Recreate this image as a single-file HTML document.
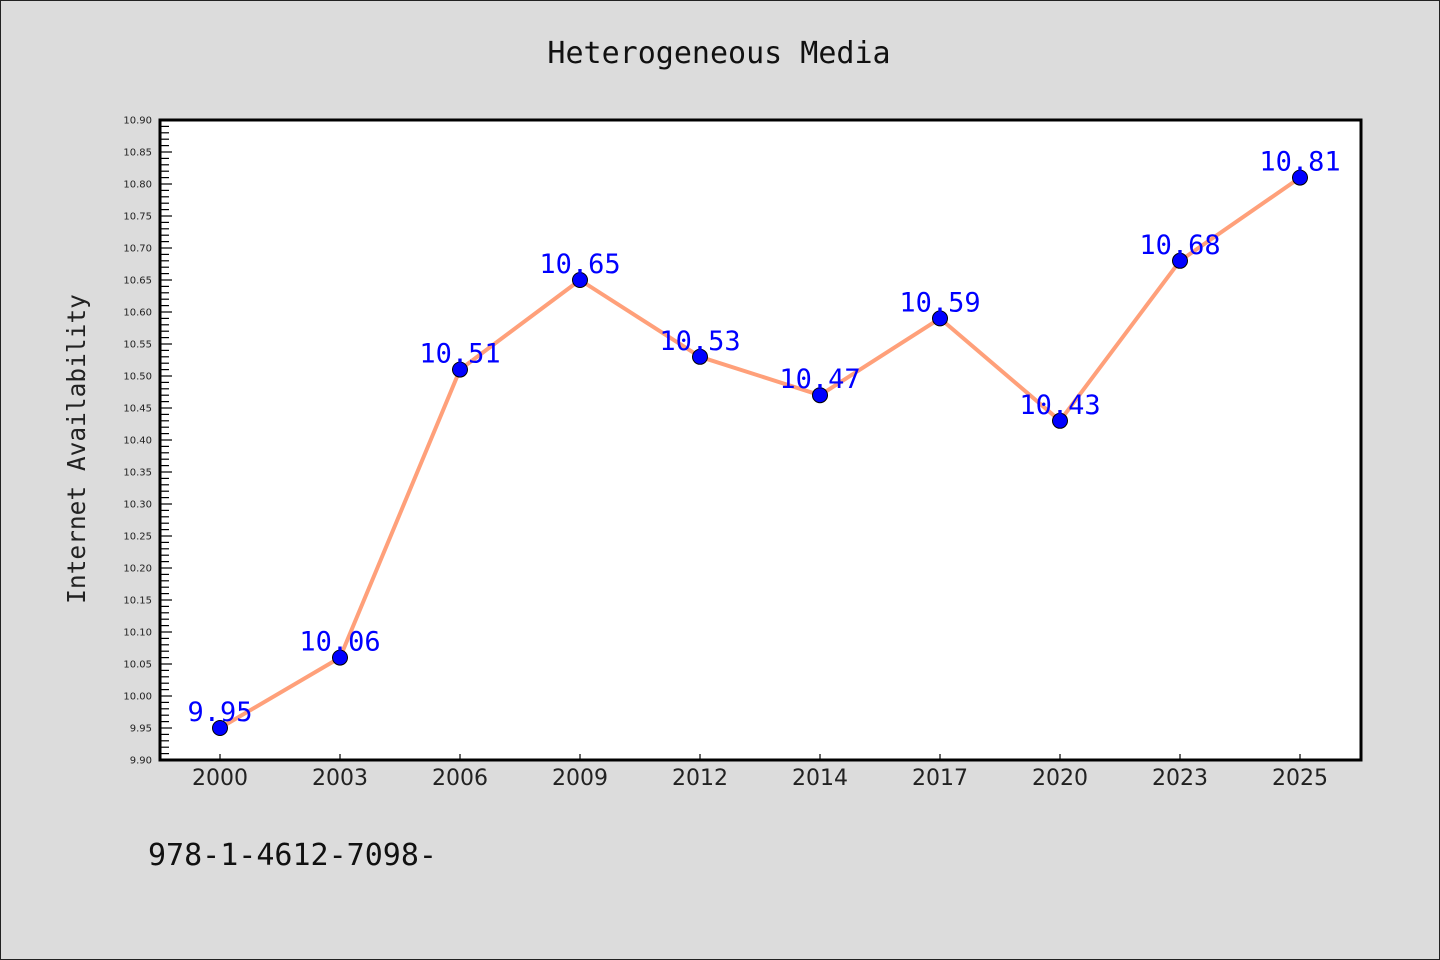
<!DOCTYPE html>
<html><head><meta charset="utf-8"><style>
html,body{margin:0;padding:0;background:#dcdcdc;}
svg{display:block;}
</style></head><body>
<svg id="chart" width="1440" height="960" xmlns="http://www.w3.org/2000/svg">
<rect x="0.5" y="0.5" width="1439" height="959" fill="#dcdcdc" stroke="#222"/>
<text x="719" y="63" text-anchor="middle" font-family="'DejaVu Sans Mono','Liberation Mono',monospace" font-size="30" fill="#111">Heterogeneous Media</text>
<rect x="160" y="120" width="1201" height="640" fill="#fff"/>
<g id="axes"></g>
<rect x="160" y="120" width="1201" height="640" fill="none" stroke="#000" stroke-width="3"/>
<text transform="translate(85,449) rotate(-90)" text-anchor="middle" font-family="'DejaVu Sans Mono','Liberation Mono',monospace" font-size="24.5" fill="#222">Internet Availability</text>
<text x="148" y="865" font-family="'DejaVu Sans Mono','Liberation Mono',monospace" font-size="30" fill="#111">978-1-4612-7098-</text>
<g id="series"></g>
</svg>
<script>
const categories = ["2000","2003","2006","2009","2012","2014","2017","2020","2023","2025"];
const values = [9.95,10.06,10.51,10.65,10.53,10.47,10.59,10.43,10.68,10.81];
const yTicks = ["9.90","9.95","10.00","10.05","10.10","10.15","10.20","10.25","10.30","10.35","10.40","10.45","10.50","10.55","10.60","10.65","10.70","10.75","10.80","10.85","10.90"];
const yMin = 9.90, yMax = 10.90;
const SVGNS = "http://www.w3.org/2000/svg";
const plotL=160, plotR=1361, plotT=120, plotB=760;
function yScale(v){ return plotB - (v - yMin)/(yMax - yMin)*(plotB-plotT); }
function xScale(i){ return 220 + i*120; }
function mk(tag, attrs, parent){ const e=document.createElementNS(SVGNS,tag); for(const k in attrs) e.setAttribute(k,attrs[k]); parent.appendChild(e); return e; }
const axesG=document.getElementById('axes');
for(let k=0;k<=100;k++){
  const v=yMin+k*0.01;
  const y=yScale(v);
  const major = k%5===0;
  const t=mk('line',{x1:plotL,x2:plotL+(major?12:9),y1:y,y2:y,stroke:'#000','stroke-width':1.2},axesG);
  
  
}
yTicks.forEach(lbl=>{
  const y=yScale(parseFloat(lbl));
  const t=mk('text',{x:152,y:y+3.5,'text-anchor':'end','font-family':"'DejaVu Sans','Liberation Sans',sans-serif",'font-size':10,fill:'#222'},axesG);
  t.textContent=lbl;
  
  
});
categories.forEach((c,i)=>{
  const x=xScale(i);
  const tk=mk('line',{x1:x,x2:x,y1:plotB,y2:plotB-6,stroke:'#000','stroke-width':1.2},axesG);
  
  
  const t=mk('text',{x:x,y:785,'text-anchor':'middle','font-family':"'DejaVu Sans','Liberation Sans',sans-serif",'font-size':22,fill:'#222'},axesG);
  t.textContent=c;
  
  
});
const seriesG=document.getElementById('series');
const pts=values.map((v,i)=>xScale(i)+','+yScale(v)).join(' ');
const line=mk('polyline',{points:pts,fill:'none',stroke:'#ffa07a','stroke-width':4,'stroke-linejoin':'round'},seriesG);


values.forEach((v,i)=>{
  const c=mk('circle',{cx:xScale(i),cy:yScale(v),r:7.5,fill:'#0000ff',stroke:'#000','stroke-width':1},seriesG);
  
  
});
values.forEach((v,i)=>{
  const t=mk('text',{x:xScale(i),y:yScale(v)-7,'text-anchor':'middle','font-family':"'DejaVu Sans Mono','Liberation Mono',monospace",'font-size':27,fill:'#0000ff'},seriesG);
  t.textContent=v.toFixed(2);
  
  
});
</script>
</body></html>
